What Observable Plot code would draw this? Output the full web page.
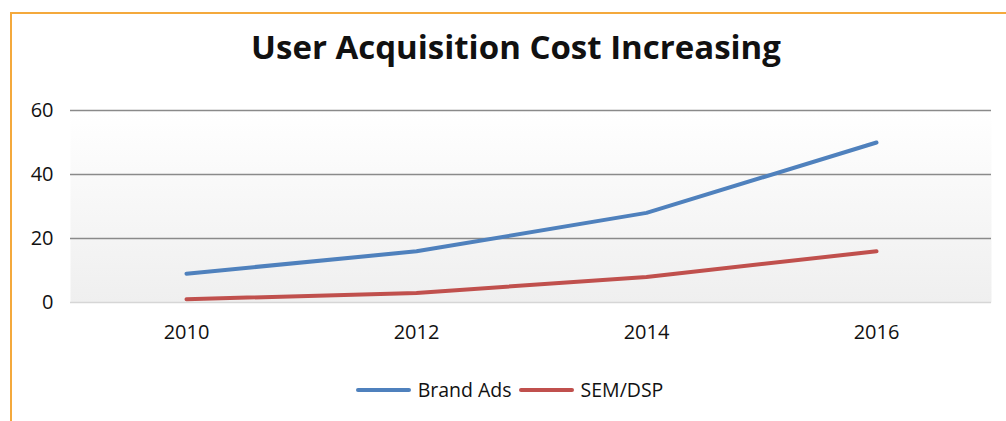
<!DOCTYPE html>
<html>
<head>
<meta charset="utf-8">
<script src="https://cdn.jsdelivr.net/npm/d3@7"></script>
<script src="https://cdn.jsdelivr.net/npm/@observablehq/plot@0.6"></script>
<style>
  html, body { margin: 0; padding: 0; background: #fff; }
  body { width: 1006px; height: 421px; position: relative; overflow: hidden; font-family: "Open Sans", sans-serif; }
  #border { position: absolute; left: 10px; top: 12px; width: 1010px; height: 420px; border-left: 2px solid #f4a93c; border-top: 2px solid #f4a93c; box-sizing: border-box; }
  #title { position: absolute; left: 0; width: 1032px; top: 24px; text-align: center; font-size: 33px; font-weight: bold; color: #111; }
  #chart { position: absolute; left: 0; top: 90px; }
  #legend { position: absolute; top: 376px; left: 0; width: 1026px; display: flex; justify-content: center; align-items: center; font-size: 19.5px; color: #111; }
  .sw { display: inline-block; width: 55px; height: 4px; border-radius: 2px; margin: 0 7px 0 0; }
  .item { display: flex; align-items: center; margin-right: 7px; }
</style>
</head>
<body>
<div id="border"></div>
<div id="title">User Acquisition Cost Increasing</div>
<div id="chart"></div>
<div id="legend"></div>
<script>
const years = ["2010", "2012", "2014", "2016"];
const seriesNames = ["Brand Ads", "SEM/DSP"];
const brandAds = [9, 16, 28, 50];
const semDsp = [1, 3, 8, 16];
const colors = ["#4f81bd", "#c0504d"];
const yTicks = [0, 20, 40, 60];

const data = [];
years.forEach((yr, i) => {
  data.push({year: yr, value: brandAds[i], series: seriesNames[0]});
  data.push({year: yr, value: semDsp[i], series: seriesNames[1]});
});

const defs = () => {
  const d = d3.create("svg:defs");
  const g = d.append("linearGradient").attr("id", "bg").attr("x1", 0).attr("y1", 0).attr("x2", 0).attr("y2", 1);
  g.append("stop").attr("offset", "0%").attr("stop-color", "#ffffff");
  g.append("stop").attr("offset", "100%").attr("stop-color", "#efefef");
  return d.node();
};

const chart = Plot.plot({
  width: 1006,
  height: 262,
  marginTop: 20,
  marginBottom: 50,
  marginLeft: 70,
  marginRight: 15,
  style: {fontFamily: "'Open Sans', sans-serif", fontSize: "20px", color: "#111", background: "transparent"},
  x: {type: "point", domain: years, padding: 0.5, label: null},
  y: {domain: [0, 60], ticks: yTicks, label: null},
  color: {domain: seriesNames, range: colors},
  marks: [
    defs,
    Plot.frame({fill: "url(#bg)", stroke: null}),
    Plot.ruleY(yTicks.filter(d => d > 0), {stroke: "#8a8a8a", strokeWidth: 1.4}),
    Plot.ruleY([0], {stroke: "#d6d6d6", strokeWidth: 1.5}),
    Plot.line(data, {x: "year", y: "value", z: "series", stroke: "series", strokeWidth: 4, strokeLinecap: "round", strokeLinejoin: "round"}),
    Plot.axisX({tickSize: 0, tickPadding: 22, label: null}),
    Plot.axisY({ticks: yTicks, tickSize: 0, tickPadding: 17, label: null})
  ]
});
document.getElementById("chart").appendChild(chart);

const legend = document.getElementById("legend");
seriesNames.forEach((name, i) => {
  const item = document.createElement("div");
  item.className = "item";
  const sw = document.createElement("span");
  sw.className = "sw";
  sw.style.background = colors[i];
  item.appendChild(sw);
  item.appendChild(document.createTextNode(name));
  legend.appendChild(item);
});
</script>
</body>
</html>
